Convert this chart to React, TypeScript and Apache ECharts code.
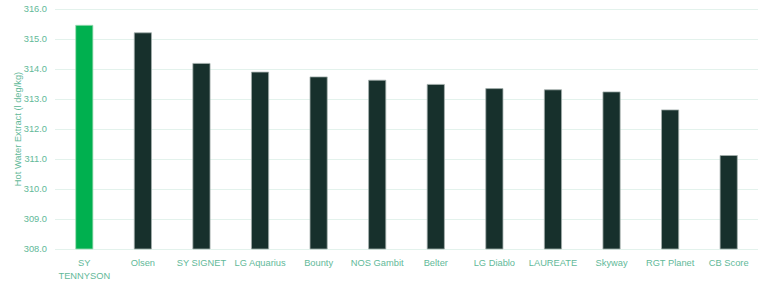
import React, { useEffect, useRef } from "react";
import * as echarts from "echarts";

const categories = ["SY\nTENNYSON", "Olsen", "SY SIGNET", "LG Aquarius", "Bounty", "NOS Gambit", "Belter", "LG Diablo", "LAUREATE", "Skyway", "RGT Planet", "CB Score"];
const values = [315.47, 315.22, 314.2, 313.91, 313.75, 313.64, 313.5, 313.36, 313.32, 313.25, 312.65, 311.13];
const highlightIndex = 0;
const yTicks = { min: 308, max: 316, interval: 1 };

export default function App() {
  const ref = useRef<HTMLDivElement>(null);
  useEffect(() => {
    const chart = echarts.init(ref.current!, undefined, { renderer: "svg" });
    chart.setOption({
      animation: false,
      textStyle: { fontFamily: "Liberation Sans, Arial, sans-serif" },
      grid: { left: 55, right: 10, top: 9, bottom: 33, outerBoundsMode: "none", containLabel: false },
      xAxis: {
        type: "category",
        data: categories,
        axisLine: { show: false },
        axisTick: { show: false },
        axisLabel: { color: "#62b999", fontSize: 9.3, interval: 0, margin: 7, lineHeight: 13 },
      },
      yAxis: {
        type: "value",
        min: yTicks.min,
        max: yTicks.max,
        interval: yTicks.interval,
        name: "Hot Water Extract (l deg/kg)",
        nameLocation: "middle",
        nameGap: 33,
        nameRotate: 90,
        nameMoveOverlap: false,
        nameTextStyle: { color: "#62b999", fontSize: 9.3 },
        axisLabel: { color: "#62b999", fontSize: 9.3, formatter: (v: number) => v.toFixed(1), margin: 8 },
        splitLine: { lineStyle: { color: "#e3f2ec", width: 1 } },
        axisLine: { show: false },
        axisTick: { show: false },
      },
      series: [
        {
          type: "bar",
          barWidth: 18,
          data: values.map((v, i) => ({
            value: v,
            itemStyle: {
              color: i === highlightIndex ? "#00b04f" : "#17302c",
              borderColor: i === highlightIndex ? "#9fdcb8" : "#a5b0ad",
              borderWidth: 0.8,
            },
          })),
        },
      ],
    });
    return () => chart.dispose();
  }, []);
  return <div ref={ref} style={{ position: "absolute", left: 0, top: 0, width: 768, height: 282 }} />;
}
